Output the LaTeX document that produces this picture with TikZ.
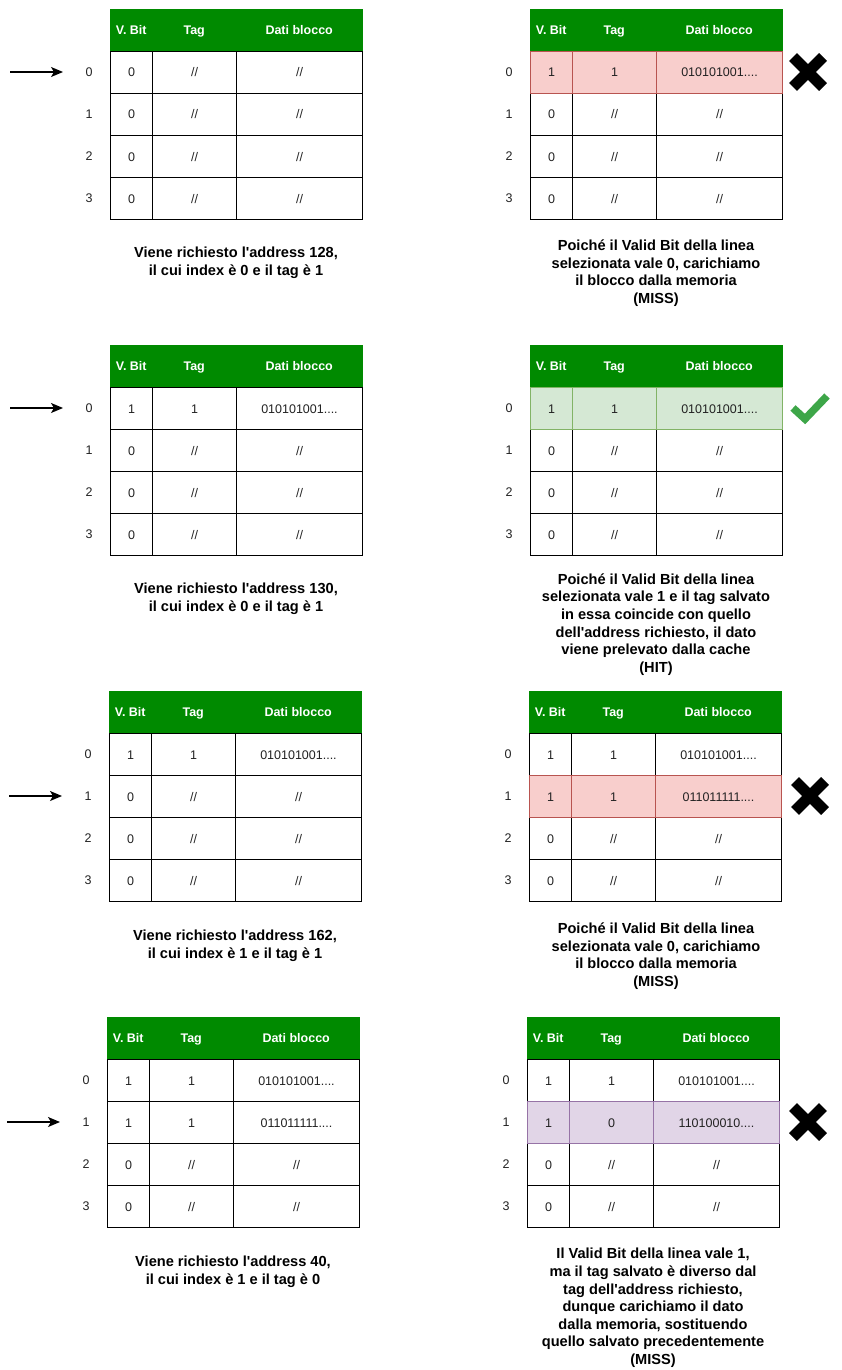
\documentclass[tikz,border=0pt]{standalone}
\usepackage{fontspec}
\newfontfamily\lsans{Liberation Sans}
\usetikzlibrary{arrows.meta}
\definecolor{hdrgreen}{HTML}{008A00}
\definecolor{redfill}{HTML}{F8CECC}
\definecolor{redline}{HTML}{B85450}
\definecolor{grnfill}{HTML}{D5E8D4}
\definecolor{grnline}{HTML}{82B366}
\definecolor{purfill}{HTML}{E1D5E7}
\definecolor{purline}{HTML}{9673A6}
\definecolor{checkgreen}{RGB}{61,166,72}
\definecolor{txt}{HTML}{222222}
\tikzset{
  hdr/.style={draw=hdrgreen, fill=hdrgreen, text=white, font=\lsans\bfseries\fontsize{12.5}{14}\selectfont,
    minimum height=42pt, inner sep=0pt, text height=9pt, text depth=0pt, anchor=north west},
  cell/.style={draw=black, line width=1pt, fill=white, text=txt, font=\lsans\fontsize{12.5}{14}\selectfont,
    minimum height=42pt, inner sep=0pt, text height=9pt, text depth=0pt, anchor=north west},
  plain/.style={},
  redrow/.style={fill=redfill, draw=redline},
  grnrow/.style={fill=grnfill, draw=grnline},
  purrow/.style={fill=purfill, draw=purline},
  lbl/.style={text=txt, font=\lsans\fontsize{12.5}{14}\selectfont, inner sep=0pt, text height=9pt, text depth=0pt},
  caption/.style={align=center, text=black, font=\lsans\bfseries\fontsize{14.6}{17.6}\selectfont, inner sep=0pt},
  arr/.style={line width=1.3pt, -{Stealth[length=12pt,width=10pt,inset=3pt]}},
  xmark/.style={line width=11pt, line cap=butt, draw=black},
  checkmark/.style={line width=7.5pt, line cap=butt, line join=miter, draw=checkgreen},
}
\newcommand\chead[3]{%
  \node[hdr,minimum width=42pt] (#1-hv) at (#2,#3) {V. Bit};
  \node[hdr,minimum width=84pt] (#1-ht) at (#2+42,#3) {Tag};
  \node[hdr,minimum width=126pt] (#1-hd) at (#2+126,#3) {Dati blocco};
}
\newcommand\crow[8]{%
  \pgfmathsetmacro\ry{#3+42*(#4+1)}%
  \node[cell,#5,minimum width=42pt] (#1-r#4-v) at (#2,\ry) {#6};
  \node[cell,#5,minimum width=84pt] (#1-r#4-t) at (#2+42,\ry) {#7};
  \node[cell,#5,minimum width=126pt] (#1-r#4-d) at (#2+126,\ry) {#8};
  \node[lbl] (#1-l#4) at (#2-21,\ry+21) {#4};
}
\newcommand\xmk[2]{%
  \draw[xmark] (#1-15,#2-15) -- (#1+15,#2+15);
  \draw[xmark] (#1-15,#2+15) -- (#1+15,#2-15);
}
\begin{document}
\begin{tikzpicture}[x=1pt,y=-1pt]
\useasboundingbox (0,0) rectangle (842,1370);
\fill[white] (0,0) rectangle (842,1370);

% ---------- Panel 1 left
\chead{aL}{110}{9}
\crow{aL}{110}{9}{0}{plain}{0}{//}{//}
\crow{aL}{110}{9}{1}{plain}{0}{//}{//}
\crow{aL}{110}{9}{2}{plain}{0}{//}{//}
\crow{aL}{110}{9}{3}{plain}{0}{//}{//}
\coordinate (aL-as) at (10,72);
\coordinate (aL-ae) at (63,72);
\draw[arr] (aL-as) -- (aL-ae);
\node[caption] (aL-cap) at (236,262.5) {Viene richiesto l'address 128,\\il cui index è 0 e il tag è 1};

% ---------- Panel 1 right
\chead{aR}{530}{9}
\crow{aR}{530}{9}{1}{plain}{0}{//}{//}
\crow{aR}{530}{9}{2}{plain}{0}{//}{//}
\crow{aR}{530}{9}{3}{plain}{0}{//}{//}
\crow{aR}{530}{9}{0}{redrow}{1}{1}{010101001....}
\xmk{808}{72}
\node[caption] (aR-cap) at (656,273) {Poiché il Valid Bit della linea\\selezionata vale 0, carichiamo\\il blocco dalla memoria\\(MISS)};

% ---------- Panel 2 left
\chead{bL}{110}{345}
\crow{bL}{110}{345}{0}{plain}{1}{1}{010101001....}
\crow{bL}{110}{345}{1}{plain}{0}{//}{//}
\crow{bL}{110}{345}{2}{plain}{0}{//}{//}
\crow{bL}{110}{345}{3}{plain}{0}{//}{//}
\coordinate (bL-as) at (10,408);
\coordinate (bL-ae) at (63,408);
\draw[arr] (bL-as) -- (bL-ae);
\node[caption] (bL-cap) at (236,599) {Viene richiesto l'address 130,\\il cui index è 0 e il tag è 1};

% ---------- Panel 2 right
\chead{bR}{530}{345}
\crow{bR}{530}{345}{1}{plain}{0}{//}{//}
\crow{bR}{530}{345}{2}{plain}{0}{//}{//}
\crow{bR}{530}{345}{3}{plain}{0}{//}{//}
\crow{bR}{530}{345}{0}{grnrow}{1}{1}{010101001....}
\draw[checkmark] (793,408) -- (805,419) -- (827,396);
\node[caption] (bR-cap) at (656,624.5) {Poiché il Valid Bit della linea\\selezionata vale 1 e il tag salvato\\in essa coincide con quello\\dell'address richiesto, il dato\\viene prelevato dalla cache\\(HIT)};

% ---------- Panel 3 left
\chead{cL}{109}{691}
\crow{cL}{109}{691}{0}{plain}{1}{1}{010101001....}
\crow{cL}{109}{691}{1}{plain}{0}{//}{//}
\crow{cL}{109}{691}{2}{plain}{0}{//}{//}
\crow{cL}{109}{691}{3}{plain}{0}{//}{//}
\coordinate (cL-as) at (9,796);
\coordinate (cL-ae) at (62,796);
\draw[arr] (cL-as) -- (cL-ae);
\node[caption] (cL-cap) at (235,945.5) {Viene richiesto l'address 162,\\il cui index è 1 e il tag è 1};

% ---------- Panel 3 right
\chead{cR}{529}{691}
\crow{cR}{529}{691}{0}{plain}{1}{1}{010101001....}
\crow{cR}{529}{691}{2}{plain}{0}{//}{//}
\crow{cR}{529}{691}{3}{plain}{0}{//}{//}
\crow{cR}{529}{691}{1}{redrow}{1}{1}{011011111....}
\xmk{810}{796}
\node[caption] (cR-cap) at (656,956) {Poiché il Valid Bit della linea\\selezionata vale 0, carichiamo\\il blocco dalla memoria\\(MISS)};

% ---------- Panel 4 left
\chead{dL}{107}{1017}
\crow{dL}{107}{1017}{0}{plain}{1}{1}{010101001....}
\crow{dL}{107}{1017}{1}{plain}{1}{1}{011011111....}
\crow{dL}{107}{1017}{2}{plain}{0}{//}{//}
\crow{dL}{107}{1017}{3}{plain}{0}{//}{//}
\coordinate (dL-as) at (7,1122);
\coordinate (dL-ae) at (60,1122);
\draw[arr] (dL-as) -- (dL-ae);
\node[caption] (dL-cap) at (233,1271.5) {Viene richiesto l'address 40,\\il cui index è 1 e il tag è 0};

% ---------- Panel 4 right
\chead{dR}{527}{1017}
\crow{dR}{527}{1017}{0}{plain}{1}{1}{010101001....}
\crow{dR}{527}{1017}{2}{plain}{0}{//}{//}
\crow{dR}{527}{1017}{3}{plain}{0}{//}{//}
\crow{dR}{527}{1017}{1}{purrow}{1}{0}{110100010....}
\xmk{808}{1122}
\node[caption] (dR-cap) at (653,1308) {Il Valid Bit della linea vale 1,\\ma il tag salvato è diverso dal\\tag dell'address richiesto,\\dunque carichiamo il dato\\dalla memoria, sostituendo\\quello salvato precedentemente\\(MISS)};
\end{tikzpicture}
\end{document}
